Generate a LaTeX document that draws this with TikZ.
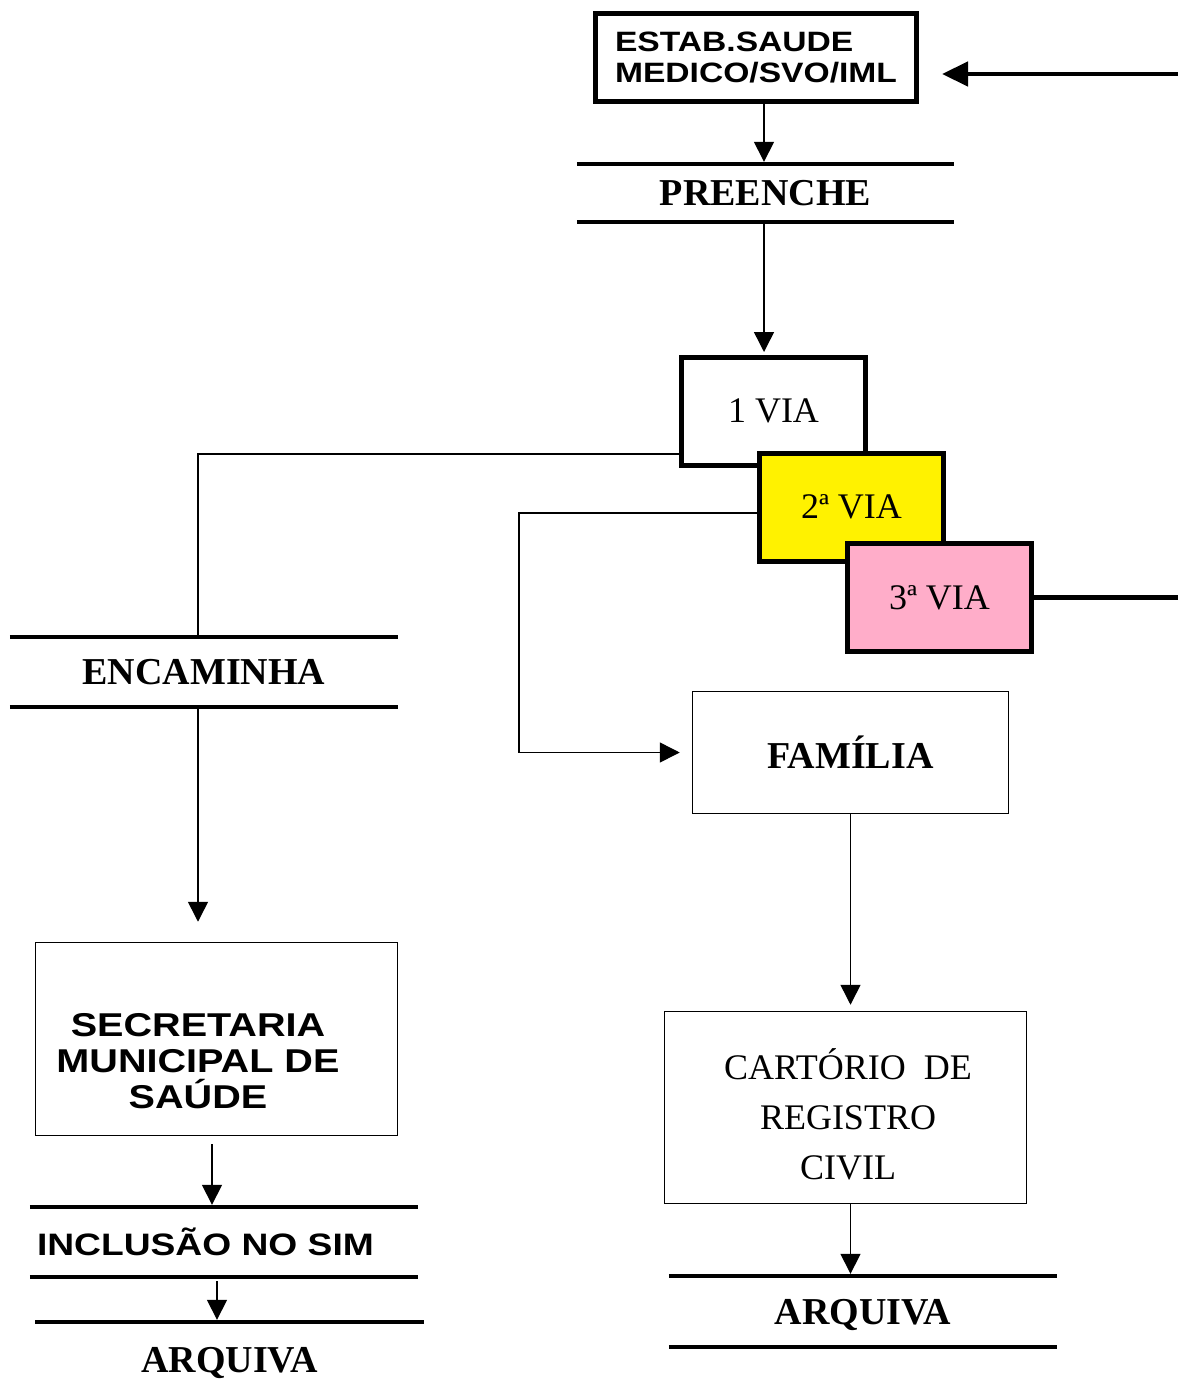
\documentclass[tikz,border=0pt]{standalone}
\usepackage{fontspec}
\setmainfont{Liberation Serif}
\newfontfamily\widesans[FakeStretch=1.2]{Liberation Sans}
\usetikzlibrary{arrows.meta}

\definecolor{viayellow}{RGB}{255,242,0}
\definecolor{viapink}{RGB}{255,173,201}

\tikzset{
  thickbox/.style={draw, line width=5pt, inner sep=0pt, minimum width=184pt, minimum height=108pt, font=\fontsize{36}{40}\selectfont},
  thinbox/.style={draw, line width=1.5pt, inner sep=0pt},
  bar/.style={inner sep=0pt, text depth=0pt, minimum width=388pt, minimum height=70pt, font=\fontsize{38}{42}\selectfont\bfseries},
  barline/.style={line width=4.5pt},
  conn/.style={line width=1.5pt, -{Triangle[width=20pt,length=20pt]}},
  link/.style={line width=1.5pt},
  heavy/.style={line width=4.5pt}
}

\begin{document}
\begin{tikzpicture}[x=1pt,y=-1pt]
\useasboundingbox (0,0) rectangle (1178,1389);

% Define the source and the three copies
\node[thickbox, minimum width=321pt, minimum height=88pt, align=left, font=\widesans\bfseries\fontsize{28}{31}\selectfont] (estab) at (756,57.5) {ESTAB.SAUDE\\MEDICO/SVO/IML};
\node[bar, minimum width=377pt, minimum height=58pt] (pre) at (765.5,193) {PREENCHE};
\node[thickbox] (via1) at (773.5,411) {1 VIA};
\node[thickbox, fill=viayellow] (via2) at (851.5,507) {2ª VIA};
\node[thickbox, fill=viapink] (via3) at (939.5,597.5) {3ª VIA};

% Define the left branch
\node[bar] (enc) at (204,672) {ENCAMINHA};
\node[thinbox, minimum width=362pt, minimum height=193pt] (secr) at (216.5,1039) {};
\node[align=center, font=\widesans\bfseries\fontsize{33}{36}\selectfont] (secrtext) at (198,1061) {SECRETARIA\\MUNICIPAL DE\\SAÚDE};
\node[bar, text width=374pt, align=left, font=\widesans\bfseries\fontsize{31}{34}\selectfont] (incl) at (224,1242) {INCLUSÃO NO SIM};
\node[bar, minimum height=76pt] (arq1) at (229.5,1360) {ARQUIVA};

% Define the right branch
\node[thinbox, minimum width=316pt, minimum height=122pt, font=\fontsize{38}{42}\selectfont\bfseries] (famil) at (850.5,752.5) {FAMÍLIA};
\node[thinbox, minimum width=362pt, minimum height=192pt] (cart) at (845.5,1107.5) {};
\node[align=center, font=\fontsize{36}{50}\selectfont] (carttext) at (848,1114) {CARTÓRIO\ \ DE\\REGISTRO\\CIVIL};
\node[bar, minimum height=71pt] (arq2) at (863,1311.5) {ARQUIVA};

% Draw the bars above and below the actions
\foreach \b in {pre,enc,incl,arq2} {
  \draw[barline] (\b.north west) -- (\b.north east);
  \draw[barline] (\b.south west) -- (\b.south east);
}
\draw[barline] (arq1.north west) -- (arq1.north east);

% Draw the lines from the page edge
\coordinate (edge1) at (1178,74);
\coordinate (edge3) at (1178,597.5);
\draw[heavy, -{Triangle[width=24pt,length=26pt]}, shorten >=23pt] (edge1) -- (edge1 -| estab.east);
\draw[heavy] (via3.east) -- (edge3);

% Draw the connectors
\draw[conn, shorten >=2pt] ([xshift=8pt]estab.south) -- ([xshift=8pt]estab.south |- pre.north);
\draw[conn, shorten >=2.5pt] ([xshift=-9.5pt]via1.north |- pre.south) -- ([xshift=-9.5pt]via1.north);
\draw[link] ([yshift=13.5pt]via1.south west) -| ([xshift=-6pt]enc.north);
\draw[conn, shorten >=12pt] ([yshift=-6pt]via2.west) -| ([xshift=-173pt]famil.west) -- (famil.west);
\draw[conn, shorten >=20pt] ([xshift=-6pt]enc.south) -- ([xshift=-6pt]enc.south |- secr.north);
\draw[conn, shorten <=8pt, shorten >=2pt] ([xshift=-4.5pt]secr.south) -- ([xshift=-4.5pt]secr.south |- incl.north);
\draw[conn, shorten <=4pt, shorten >=2pt] ([xshift=-7pt]incl.south) -- ([xshift=-7pt]incl.south |- arq1.north);
\draw[conn, shorten >=6pt] (famil.south) -- (famil.south |- cart.north);
\draw[conn, shorten >=2pt] (cart.south -| famil.south) -- (famil.south |- arq2.north);
\end{tikzpicture}
\end{document}
